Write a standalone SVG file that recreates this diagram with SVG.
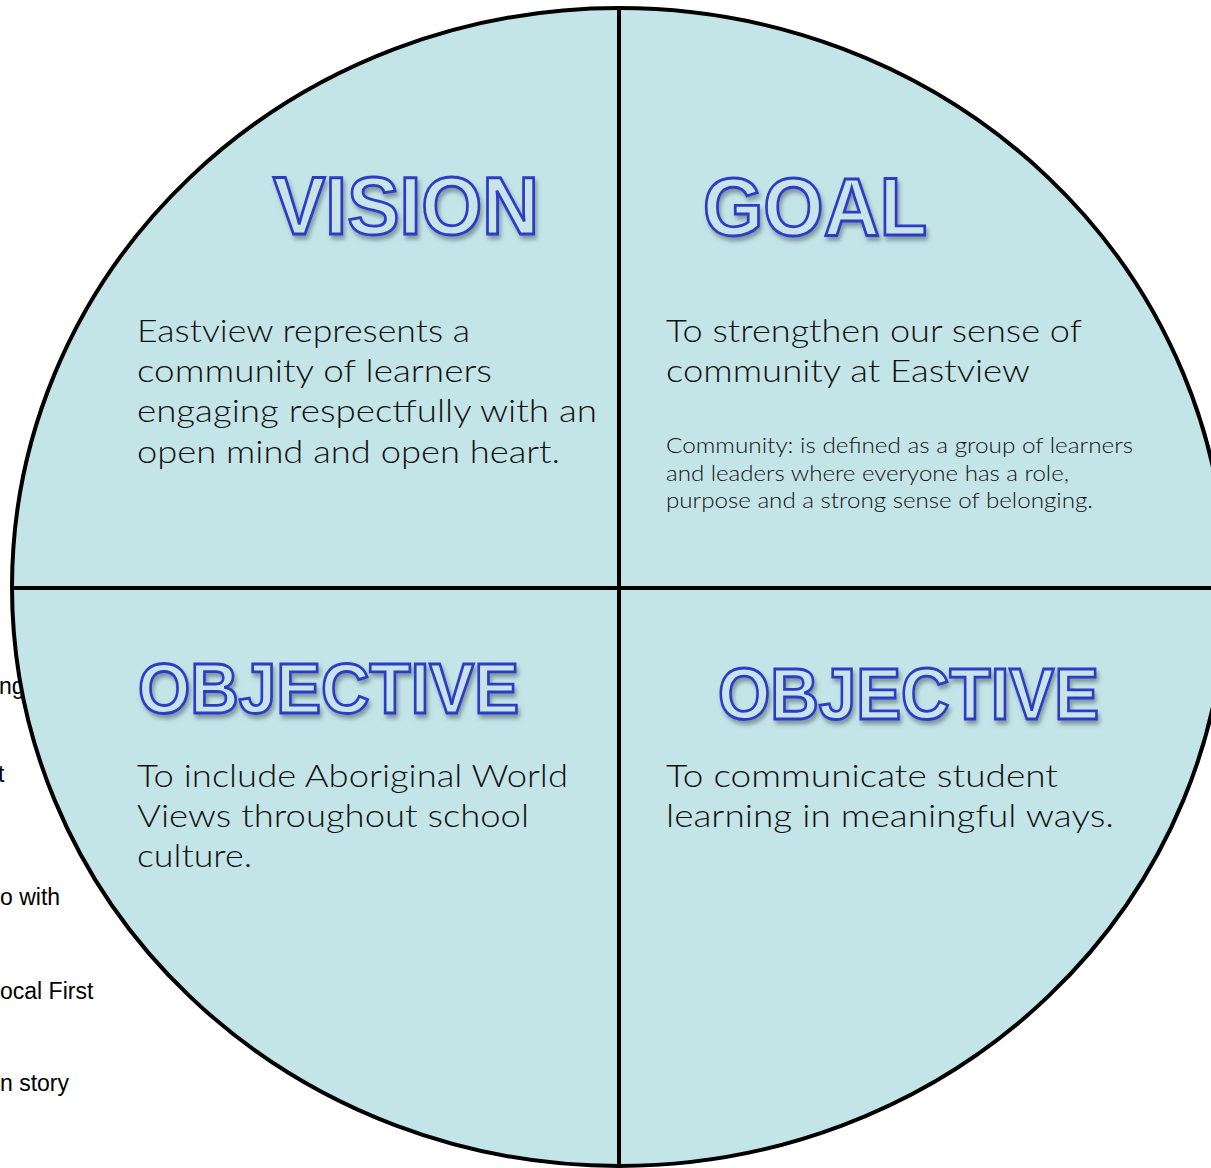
<svg xmlns="http://www.w3.org/2000/svg" width="1211" height="1168" viewBox="0 0 1211 1168">
<style>
.side{font-family:"Liberation Sans",Arial,sans-serif;font-size:23px;fill:#000}
.head{font-family:"Liberation Sans",Arial,sans-serif;font-weight:bold;fill:#c8e4e8;stroke:#2b3cc4;stroke-width:2.8;filter:url(#sh)}
.body{font-family:Lato,"Open Sans",sans-serif;font-weight:300;font-size:32px;fill:#111}
.small{font-family:Lato,"Open Sans",sans-serif;font-weight:300;font-size:21px;fill:#111}
.div{stroke:#000;stroke-width:4;fill:none}
</style>
<defs>
<filter id="sh" x="-10%" y="-20%" width="120%" height="150%">
<feDropShadow dx="2" dy="4" stdDeviation="2.2" flood-color="#4a5a66" flood-opacity="0.55"/>
</filter>
</defs>
<rect width="1211" height="1168" fill="#fff"/>
<g id="side-notes">
<text class="side" x="-1" y="694">ng</text>
<text class="side" x="-2" y="782">t</text>
<text class="side" x="0" y="905">o with</text>
<text class="side" x="0" y="999">ocal First</text>
<text class="side" x="0" y="1091">n story</text>
</g>
<g id="circle">
<ellipse cx="619" cy="587" rx="607" ry="579" fill="#c4e5e8" stroke="#000" stroke-width="4"/>
</g>
<g id="connectors">
<line class="div" x1="619" y1="8" x2="619" y2="1168"/>
<line class="div" x1="12" y1="588" x2="1211" y2="588"/>
</g>
<g id="vision">
<text class="head" x="273" y="234" font-size="81" textLength="266" lengthAdjust="spacingAndGlyphs">VISION</text>
<text class="body" x="137" y="342" textLength="333" lengthAdjust="spacingAndGlyphs">Eastview represents a</text>
<text class="body" x="137" y="382" textLength="355" lengthAdjust="spacingAndGlyphs">community of learners</text>
<text class="body" x="137" y="422" textLength="460" lengthAdjust="spacingAndGlyphs">engaging respectfully with an</text>
<text class="body" x="137" y="463" textLength="423" lengthAdjust="spacingAndGlyphs">open mind and open heart.</text>
</g>
<g id="goal">
<text class="head" x="703" y="235" font-size="81" textLength="224" lengthAdjust="spacingAndGlyphs">GOAL</text>
<text class="body" x="666" y="342" textLength="416" lengthAdjust="spacingAndGlyphs">To strengthen our sense of</text>
<text class="body" x="666" y="382" textLength="364" lengthAdjust="spacingAndGlyphs">community at Eastview</text>
<text class="small" x="666" y="453" textLength="467" lengthAdjust="spacingAndGlyphs">Community: is defined as a group of learners</text>
<text class="small" x="666" y="481" textLength="403" lengthAdjust="spacingAndGlyphs">and leaders where everyone has a role,</text>
<text class="small" x="666" y="508" textLength="427" lengthAdjust="spacingAndGlyphs">purpose and a strong sense of belonging.</text>
</g>
<g id="objective-left">
<text class="head" x="138" y="713" font-size="71" textLength="381" lengthAdjust="spacingAndGlyphs">OBJECTIVE</text>
<text class="body" x="137" y="787" textLength="431" lengthAdjust="spacingAndGlyphs">To include Aboriginal World</text>
<text class="body" x="137" y="827" textLength="392" lengthAdjust="spacingAndGlyphs">Views throughout school</text>
<text class="body" x="137" y="867" textLength="115" lengthAdjust="spacingAndGlyphs">culture.</text>
</g>
<g id="objective-right">
<text class="head" x="718" y="719" font-size="73" textLength="381" lengthAdjust="spacingAndGlyphs">OBJECTIVE</text>
<text class="body" x="666" y="787" textLength="392" lengthAdjust="spacingAndGlyphs">To communicate student</text>
<text class="body" x="666" y="827" textLength="448" lengthAdjust="spacingAndGlyphs">learning in meaningful ways.</text>
</g>
</svg>
